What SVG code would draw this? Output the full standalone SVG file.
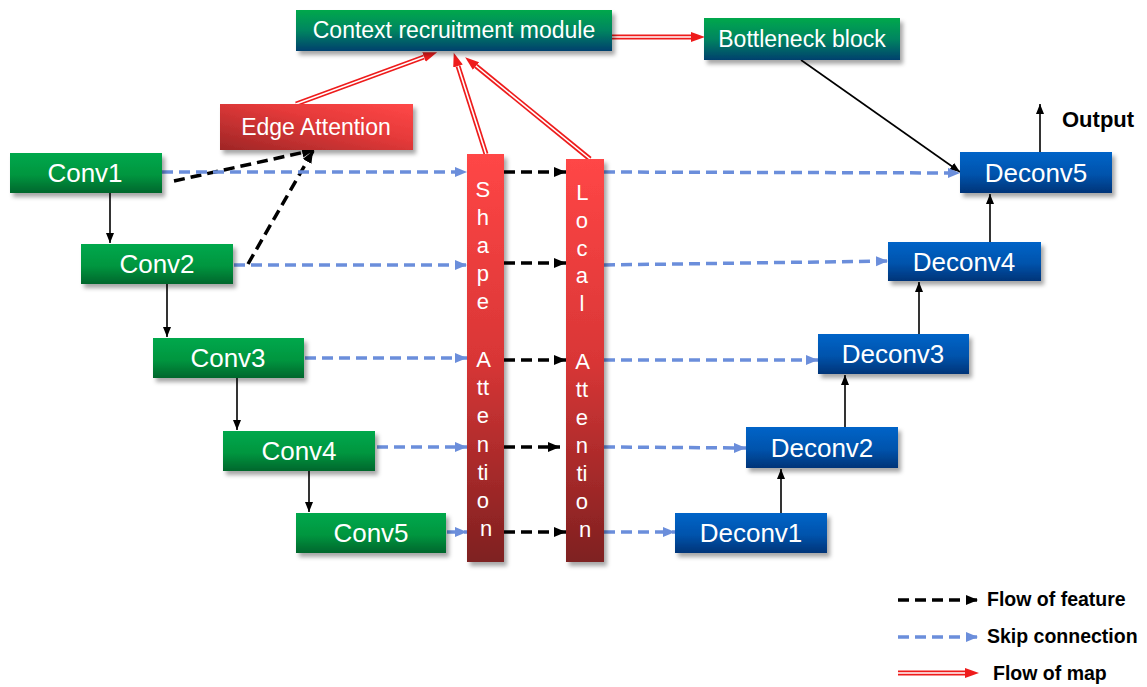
<svg xmlns="http://www.w3.org/2000/svg" width="1147" height="687" viewBox="0 0 1147 687">
  <defs>
    <linearGradient id="gGreen" x1="0" y1="0" x2="0" y2="1">
      <stop offset="0" stop-color="#00A84C"/>
      <stop offset="0.55" stop-color="#00963F"/>
      <stop offset="1" stop-color="#00662C"/>
    </linearGradient>
    <linearGradient id="gTeal" x1="0" y1="0" x2="0" y2="1">
      <stop offset="0" stop-color="#00A84C"/>
      <stop offset="0.5" stop-color="#008560"/>
      <stop offset="1" stop-color="#04406E"/>
    </linearGradient>
    <linearGradient id="gBlue" x1="0" y1="0" x2="0" y2="1">
      <stop offset="0" stop-color="#0064C8"/>
      <stop offset="0.55" stop-color="#0053AC"/>
      <stop offset="1" stop-color="#003478"/>
    </linearGradient>
    <linearGradient id="gEdge" x1="0" y1="1" x2="1" y2="0">
      <stop offset="0" stop-color="#9E2626"/>
      <stop offset="0.6" stop-color="#E63A3A"/>
      <stop offset="1" stop-color="#FF4848"/>
    </linearGradient>
    <linearGradient id="gBar" x1="0" y1="0" x2="0" y2="1">
      <stop offset="0" stop-color="#FF4646"/>
      <stop offset="0.5" stop-color="#D93636"/>
      <stop offset="1" stop-color="#7E2020"/>
    </linearGradient>
    <filter id="shadow" x="-20%" y="-20%" width="140%" height="150%">
      <feDropShadow dx="3" dy="4" stdDeviation="2" flood-color="#000" flood-opacity="0.35"/>
    </filter>
    <marker id="arrThin" markerUnits="userSpaceOnUse" markerWidth="12" markerHeight="10" refX="10" refY="4" orient="auto">
      <path d="M0,0 L10,4 L0,8 Z" fill="#000"/>
    </marker>
    <marker id="arrDash" markerUnits="userSpaceOnUse" markerWidth="14" markerHeight="12" refX="12" refY="5" orient="auto">
      <path d="M0,0 L12,5 L0,10 Z" fill="#000"/>
    </marker>
    <marker id="arrSkip" markerUnits="userSpaceOnUse" markerWidth="14" markerHeight="12" refX="12" refY="5" orient="auto">
      <path d="M0,0 L12,5 L0,10 Z" fill="#6B8EDB"/>
    </marker>
    <marker id="arrMap" markerUnits="userSpaceOnUse" markerWidth="16" markerHeight="12" refX="0" refY="5" orient="auto">
      <path d="M0,0 L14,5 L0,10 Z" fill="#EE1C1C"/>
    </marker>
    <style>
      .box { filter: url(#shadow); }
      .lbl { font-family: "Liberation Sans", Arial, sans-serif; fill: #fff; text-anchor: middle; }
      .big { font-size: 26px; }
      .mid { font-size: 23px; }
      .vert { font-family: "Liberation Sans", Arial, sans-serif; fill: #fff; text-anchor: middle; font-size: 22px; }
      .key { font-family: "Liberation Sans", Arial, sans-serif; font-weight: bold; fill: #000; font-size: 19.5px; }
      .out { font-family: "Liberation Sans", Arial, sans-serif; font-weight: bold; fill: #000; font-size: 22px; }
      .thin { stroke: #000; stroke-width: 1.6; fill: none; marker-end: url(#arrThin); }
      .feat { stroke: #000; stroke-width: 3.5; stroke-dasharray: 11 6; fill: none; marker-end: url(#arrDash); }
      .skip { stroke: #6B8EDB; stroke-width: 3.5; stroke-dasharray: 11 6; fill: none; marker-end: url(#arrSkip); }
      .mapO { stroke: #EE1C1C; stroke-width: 5; fill: none; marker-end: url(#arrMap); }
      .mapI { stroke: #fff; stroke-width: 1.6; fill: none; }
    </style>
  </defs>

  <rect width="1147" height="687" fill="#fff"/>

  <!-- connectors -->
  <g id="connectors">
    <!-- encoder chain -->
    <line class="thin" x1="110" y1="193" x2="110" y2="243"/>
    <line class="thin" x1="167" y1="284" x2="167" y2="337"/>
    <line class="thin" x1="237" y1="378" x2="237" y2="430"/>
    <line class="thin" x1="309" y1="471" x2="309" y2="512"/>
    <!-- decoder chain -->
    <line class="thin" x1="781" y1="513" x2="781" y2="469"/>
    <line class="thin" x1="845" y1="427" x2="845" y2="375"/>
    <line class="thin" x1="919" y1="334" x2="919" y2="282"/>
    <line class="thin" x1="990" y1="242" x2="990" y2="194"/>
    <line class="thin" x1="1040" y1="152" x2="1040" y2="104"/>
    <line class="thin" x1="801" y1="60" x2="960" y2="172"/>

    <!-- features into edge attention -->
    <line class="feat" x1="174" y1="181" x2="314" y2="150"/>
    <line class="feat" x1="248" y1="264" x2="313" y2="151"/>

    <!-- skip connections, encoder side -->
    <line class="skip" x1="162" y1="172" x2="467" y2="172"/>
    <line class="skip" x1="234" y1="265" x2="467" y2="265"/>
    <line class="skip" x1="305" y1="358" x2="467" y2="358"/>
    <line class="skip" x1="377" y1="447" x2="467" y2="447"/>
    <line class="skip" x1="447" y1="532" x2="467" y2="532"/>

    <!-- shape to local -->
    <line class="feat" x1="504" y1="172" x2="566" y2="172"/>
    <line class="feat" x1="504" y1="263" x2="566" y2="263"/>
    <line class="feat" x1="504" y1="360" x2="566" y2="360"/>
    <line class="feat" x1="504" y1="447" x2="560" y2="447"/>
    <line class="feat" x1="504" y1="532" x2="566" y2="532"/>

    <!-- skip connections, decoder side -->
    <line class="skip" x1="604" y1="172" x2="960" y2="173"/>
    <line class="skip" x1="604" y1="265" x2="888" y2="261"/>
    <line class="skip" x1="604" y1="360" x2="818" y2="360"/>
    <line class="skip" x1="604" y1="447" x2="746" y2="448"/>
    <line class="skip" x1="604" y1="532" x2="675" y2="532"/>

    <!-- attention maps into context module -->
    <path class="mapO" d="M296,104 L424,57"/>
    <path class="mapI" d="M296,104 L424,57"/>
    <path class="mapO" d="M486,154 L458,66"/>
    <path class="mapI" d="M486,154 L458,66"/>
    <path class="mapO" d="M590,159 L476,66"/>
    <path class="mapI" d="M590,159 L476,66"/>
    <path class="mapO" d="M612,37 L691,37"/>
    <path class="mapI" d="M612,37 L691,37"/>
  </g>

  <!-- modules -->
  <g id="context">
    <rect class="box" x="296" y="10" width="316" height="41" fill="url(#gTeal)"/>
    <text class="lbl mid" x="454" y="38">Context recruitment module</text>
  </g>
  <g id="bottleneck">
    <rect class="box" x="704" y="18" width="196" height="42" fill="url(#gTeal)"/>
    <text class="lbl mid" x="802" y="47">Bottleneck block</text>
  </g>
  <g id="edge-attention">
    <rect class="box" x="220" y="104" width="193" height="46" fill="url(#gEdge)"/>
    <text class="lbl mid" x="316" y="135">Edge Attention</text>
  </g>

  <!-- encoder -->
  <g id="conv1">
    <rect class="box" x="10" y="153" width="152" height="40" fill="url(#gGreen)"/>
    <text class="lbl big" x="85" y="182">Conv1</text>
  </g>
  <g id="conv2">
    <rect class="box" x="81" y="244" width="152" height="40" fill="url(#gGreen)"/>
    <text class="lbl big" x="157" y="273">Conv2</text>
  </g>
  <g id="conv3">
    <rect class="box" x="153" y="338" width="151" height="40" fill="url(#gGreen)"/>
    <text class="lbl big" x="228" y="367">Conv3</text>
  </g>
  <g id="conv4">
    <rect class="box" x="223" y="431" width="152" height="40" fill="url(#gGreen)"/>
    <text class="lbl big" x="299" y="460">Conv4</text>
  </g>
  <g id="conv5">
    <rect class="box" x="296" y="513" width="150" height="40" fill="url(#gGreen)"/>
    <text class="lbl big" x="371" y="542">Conv5</text>
  </g>

  <!-- attention bars -->
  <g id="shape-attention">
    <rect class="box" x="467" y="154" width="37" height="408" fill="url(#gBar)"/>
    <text class="vert">
      <tspan x="486" y="197">S</tspan>
      <tspan x="486" y="225">h</tspan>
      <tspan x="486" y="253">a</tspan>
      <tspan x="486" y="281">p</tspan>
      <tspan x="486" y="309">e</tspan>
      <tspan x="486" y="367">A</tspan>
      <tspan x="486" y="395">tt</tspan>
      <tspan x="486" y="423">e</tspan>
      <tspan x="486" y="452">n</tspan>
      <tspan x="486" y="480">ti</tspan>
      <tspan x="486" y="508">o</tspan>
      <tspan x="486" y="536">n</tspan>
    </text>
  </g>
  <g id="local-attention">
    <rect class="box" x="566" y="159" width="38" height="403" fill="url(#gBar)"/>
    <text class="vert">
      <tspan x="585" y="200">L</tspan>
      <tspan x="585" y="228">o</tspan>
      <tspan x="585" y="256">c</tspan>
      <tspan x="585" y="283">a</tspan>
      <tspan x="585" y="311">l</tspan>
      <tspan x="585" y="369">A</tspan>
      <tspan x="585" y="397">tt</tspan>
      <tspan x="585" y="425">e</tspan>
      <tspan x="585" y="453">n</tspan>
      <tspan x="585" y="481">ti</tspan>
      <tspan x="585" y="509">o</tspan>
      <tspan x="585" y="537">n</tspan>
    </text>
  </g>

  <!-- decoder -->
  <g id="deconv1">
    <rect class="box" x="675" y="513" width="152" height="40" fill="url(#gBlue)"/>
    <text class="lbl big" x="751" y="542">Deconv1</text>
  </g>
  <g id="deconv2">
    <rect class="box" x="746" y="427" width="152" height="41" fill="url(#gBlue)"/>
    <text class="lbl big" x="822" y="457">Deconv2</text>
  </g>
  <g id="deconv3">
    <rect class="box" x="818" y="334" width="151" height="40" fill="url(#gBlue)"/>
    <text class="lbl big" x="893" y="363">Deconv3</text>
  </g>
  <g id="deconv4">
    <rect class="box" x="888" y="242" width="153" height="39" fill="url(#gBlue)"/>
    <text class="lbl big" x="964" y="271">Deconv4</text>
  </g>
  <g id="deconv5">
    <rect class="box" x="960" y="152" width="152" height="41" fill="url(#gBlue)"/>
    <text class="lbl big" x="1036" y="182">Deconv5</text>
  </g>

  <g id="output">
    <text class="out" x="1062" y="127">Output</text>
  </g>

  <!-- legend -->
  <g id="legend">
    <line class="feat" x1="898" y1="600" x2="978" y2="600"/>
    <text class="key" x="987" y="606">Flow of feature</text>
    <line class="skip" x1="898" y1="637" x2="978" y2="637"/>
    <text class="key" x="987" y="643">Skip connection</text>
    <path class="mapO" d="M898,673 L965,673"/>
    <path class="mapI" d="M898,673 L965,673"/>
    <text class="key" x="993" y="680">Flow of map</text>
  </g>
</svg>
